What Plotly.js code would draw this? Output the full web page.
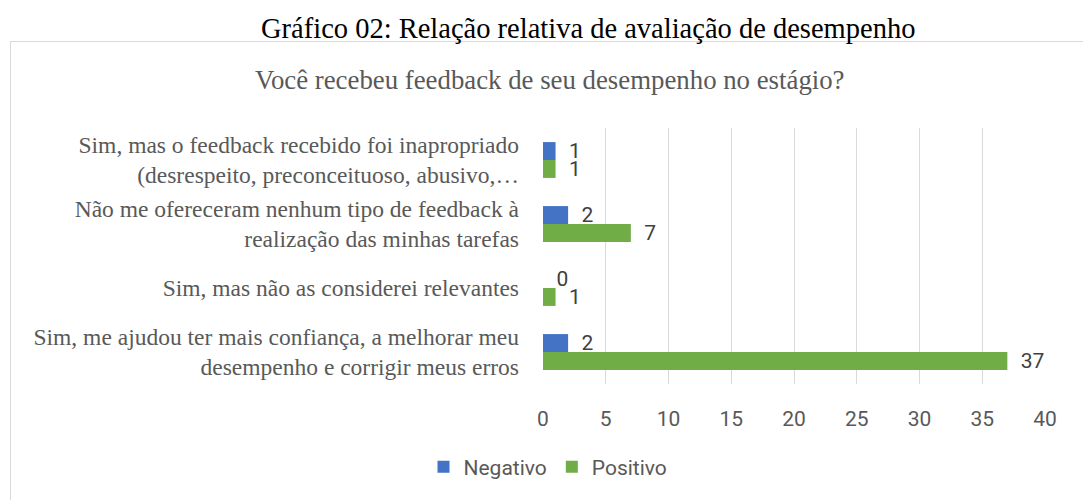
<!DOCTYPE html>
<html>
<head>
<meta charset="utf-8">
<script src="https://cdn.plot.ly/plotly-3.0.1.min.js"></script>
<style>html,body{margin:0;padding:0;background:#fff;}#chart{width:1083px;height:500px;}</style>
</head>
<body>
<div id="chart"></div>
<script>
// Categories listed top to bottom
const categories = [
  "Sim, mas o feedback recebido foi inapropriado<br>(desrespeito, preconceituoso, abusivo,…",
  "Não me ofereceram nenhum tipo de feedback à<br>realização das minhas tarefas",
  "Sim, mas não as considerei relevantes",
  "Sim, me ajudou ter mais confiança, a melhorar meu<br>desempenho e corrigir meus erros"
];
const negativo = [1, 2, 0, 2];
const positivo = [1, 7, 1, 37];
const xTicks = [0, 5, 10, 15, 20, 25, 30, 35, 40];
const seriesNames = ["Negativo", "Positivo"];
const outerTitle = "Gráfico 02: Relação relativa de avaliação de desempenho";
const innerTitle = "Você recebeu feedback de seu desempenho no estágio?";

const sans = "Roboto, Arial, sans-serif";
const serif = "Liberation Serif, Times New Roman, serif";
const pad = "\u00A0\u00A0";

const traces = [
  {type: "bar", orientation: "h", name: seriesNames[0], y: categories, x: negativo,
   marker: {color: "#4472C4"}, text: negativo.map(v => pad + v), textposition: "outside",
   constraintext: "none", textangle: 0,
   cliponaxis: false, textfont: {family: sans, size: 21, color: "#404040"}, hoverinfo: "x+name"},
  {type: "bar", orientation: "h", name: seriesNames[1], y: categories, x: positivo,
   marker: {color: "#70AD47"}, text: positivo.map(v => pad + v), textposition: "outside",
   constraintext: "none", textangle: 0,
   cliponaxis: false, textfont: {family: sans, size: 21, color: "#404040"}, hoverinfo: "x+name"}
];

const L = 543, R = 38, T = 128, B = 116, W = 1083, H = 500;
const pw = W - L - R, ph = H - T - B;
const px = v => (v - L) / pw;
const py = v => (H - B - v) / ph;

const layout = {
  width: W, height: H,
  margin: {l: L, r: R, t: T, b: B, pad: 0},
  paper_bgcolor: "#ffffff", plot_bgcolor: "#ffffff",
  barmode: "group", bargap: 0.44, bargroupgap: 0,
  uniformtext: {mode: false},
  showlegend: true,
  legend: {orientation: "h", x: px(548), xanchor: "center", y: py(467), yanchor: "middle",
           font: {family: sans, size: 21, color: "#595959"}, itemwidth: 30, traceorder: "normal"},
  xaxis: {range: [0, 40], tickvals: xTicks, ticktext: xTicks.map(String), showgrid: true,
          gridcolor: "#d9d9d9", gridwidth: 1, zeroline: false, showline: false, ticks: "",
          ticklabelstandoff: 20, tickfont: {family: sans, size: 21, color: "#595959"}, fixedrange: true},
  yaxis: {type: "category", autorange: "reversed", showgrid: false, zeroline: false, showline: false,
          ticks: "", ticklabelstandoff: 23, tickfont: {family: serif, size: 23.5, color: "#595959"}, fixedrange: true},
  shapes: [
    {type: "rect", xref: "paper", yref: "paper", x0: px(10.5), x1: px(1095), y0: py(41.5), y1: py(520),
     line: {color: "#d9d9d9", width: 1}, fillcolor: "rgba(0,0,0,0)", layer: "below"}
  ],
  annotations: [
    {text: outerTitle, xref: "paper", yref: "paper", x: px(588), y: py(28), xanchor: "center", yanchor: "middle",
     showarrow: false, font: {family: serif, size: 28.5, color: "#000000"}},
    {text: innerTitle, xref: "paper", yref: "paper", x: px(550), y: py(80), xanchor: "center", yanchor: "middle",
     showarrow: false, font: {family: serif, size: 26.8, color: "#595959"}}
  ]
};

Plotly.newPlot("chart", traces, layout, {displayModeBar: false, staticPlot: true});
</script>
</body>
</html>
